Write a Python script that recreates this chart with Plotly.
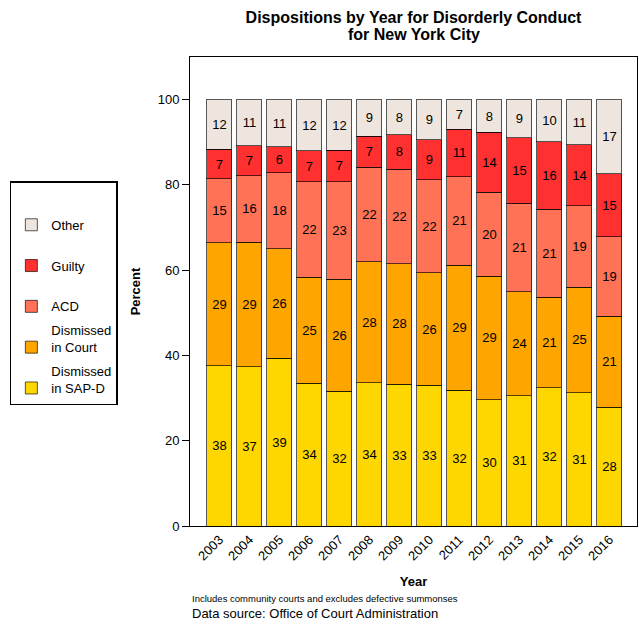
import plotly.graph_objects as go

years = ["2003", "2004", "2005", "2006", "2007", "2008", "2009", "2010",
         "2011", "2012", "2013", "2014", "2015", "2016"]
sap_d = [37.6, 37.4, 39.4, 33.5, 31.6, 33.6, 33.3, 33.0, 31.8, 29.6, 30.6, 32.4, 31.3, 27.8]
court = [28.8, 29.2, 25.6, 24.9, 26.3, 28.4, 28.2, 26.4, 29.4, 29.0, 24.3, 21.3, 24.7, 21.4]
acd = [15.0, 15.6, 17.8, 22.4, 22.9, 22.1, 22.2, 21.8, 20.7, 19.7, 20.8, 20.6, 19.1, 18.6]
guilty = [7.0, 7.0, 6.2, 7.2, 7.3, 7.3, 8.1, 9.4, 11.2, 14.0, 15.4, 15.8, 14.3, 14.8]
other = [11.6, 10.8, 11.0, 12.0, 11.9, 8.6, 8.2, 9.4, 6.9, 7.7, 8.9, 9.9, 10.6, 17.4]

series = [
    ("Dismissed<br>in SAP-D", sap_d, "#FFD700"),
    ("Dismissed<br>in Court", court, "#FFA500"),
    ("<br>ACD", acd, "#FF7256"),
    ("<br>Guilty", guilty, "#FF3030"),
    ("<br>Other", other, "#EEE5DE"),
]

FONT = "Liberation Sans, Arial, sans-serif"
xpos = list(range(len(years)))

fig = go.Figure()
for i, (name, vals, color) in enumerate(series):
    fig.add_trace(go.Bar(
        x=xpos, y=vals, name=name, legendgroup=f"g{i}",
        legendrank=len(series) - i,
        marker=dict(color=color, line=dict(color="rgba(0,0,0,0.65)", width=1)),
        text=[f"{v:.0f}" for v in vals],
        textposition="inside", insidetextanchor="middle",
        textangle=0,
        textfont=dict(family=FONT, size=13, color="black"),
        hoverinfo="skip",
    ))

fig.update_layout(
    barmode="stack",
    bargap=0.17,
    width=639, height=624,
    margin=dict(l=190, r=2, t=57, b=98),
    paper_bgcolor="white", plot_bgcolor="white",
    font=dict(family=FONT, size=12, color="black"),
    title=dict(
        text="<b>Dispositions by Year for Disorderly Conduct</b>",
        x=0.5, xanchor="center", xref="paper",
        y=1 - 17 / 624, yanchor="middle", yref="container",
        font=dict(size=16, family=FONT),
    ),
    uniformtext=dict(minsize=13, mode="show"),
    showlegend=True,
    hovermode=False,
    legend=dict(
        x=-0.403, xanchor="left", y=0.7356, yanchor="top",
        traceorder="grouped", tracegroupgap=4,
        bordercolor="black", borderwidth=1.5, bgcolor="white",
        font=dict(size=13, family=FONT),
        valign="bottom",
        title=dict(text=" ", font=dict(size=8)),
    ),
    xaxis=dict(
        range=[-0.98, 13.92],
        tickmode="array", tickvals=xpos, ticktext=years,
        tickangle=-45, ticks="", showgrid=False, zeroline=False,
        showline=True, mirror=True, linecolor="black", linewidth=1,
        tickfont=dict(size=13),
        title=dict(text="<b>Year</b>", font=dict(size=13), standoff=14),
    ),
    yaxis=dict(
        range=[0, 110],
        tickmode="array", tickvals=[0, 20, 40, 60, 80, 100],
        ticks="outside", ticklen=7, tickcolor="black",
        showgrid=False, zeroline=False,
        showline=True, mirror=True, linecolor="black", linewidth=1,
        tickfont=dict(size=13),
        title=dict(text="<b>Percent</b>", font=dict(size=13), standoff=14),
    ),
)

fig.add_annotation(
    text="<b>for New York City</b>",
    xref="paper", yref="paper", x=0.5, y=(526 - 35) / 469,
    xanchor="center", yanchor="middle", showarrow=False,
    font=dict(size=16, family=FONT),
)
fig.add_annotation(
    text="Includes community courts and excludes defective summonses",
    xref="paper", yref="paper", x=0, y=-(598 - 526) / 469,
    xanchor="left", yanchor="middle", showarrow=False,
    font=dict(size=9.5, family=FONT),
)
fig.add_annotation(
    text="Data source: Office of Court Administration",
    xref="paper", yref="paper", x=0, y=-(613 - 526) / 469,
    xanchor="left", yanchor="middle", showarrow=False,
    font=dict(size=13, family=FONT),
)

fig.write_html("out.html", config={"displayModeBar": False},
               post_script="document.body.style.margin='0';document.body.style.overflow='hidden';")
